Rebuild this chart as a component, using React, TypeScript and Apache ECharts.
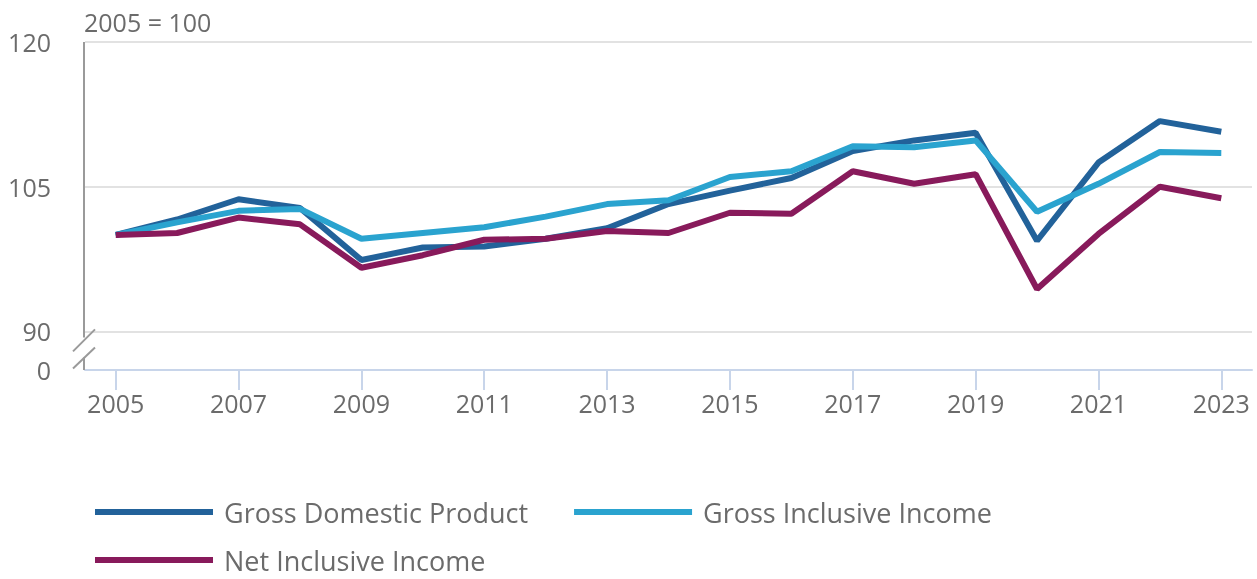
import React, { useEffect, useRef } from "react";
import * as echarts from "echarts";

const years = ["2005","2006","2007","2008","2009","2010","2011","2012","2013","2014","2015","2016","2017","2018","2019","2020","2021","2022","2023"];
const gdp = [100, 101.6, 103.7, 102.8, 97.4, 98.7, 98.8, 99.6, 100.7, 103.2, 104.6, 105.9, 108.7, 109.8, 110.6, 99.4, 107.5, 111.8, 110.7];
const gii = [100, 101.3, 102.5, 102.7, 99.6, 100.2, 100.8, 101.9, 103.2, 103.6, 106.0, 106.6, 109.2, 109.1, 109.8, 102.4, 105.3, 108.6, 108.5];
const nii = [100, 100.2, 101.8, 101.1, 96.6, 97.9, 99.5, 99.6, 100.4, 100.2, 102.3, 102.2, 106.6, 105.3, 106.3, 94.4, 100.1, 105.0, 103.8];
const yTickValues = [86, 90, 105, 120];
const seriesNames = ["Gross Domestic Product", "Gross Inclusive Income", "Net Inclusive Income"];
const colors = ["#22629a", "#2aa3cf", "#881a5b"];

const FONT = "'Open Sans', sans-serif";
const GRAY = "#6b6b6b";
const GRID_LEFT = 85;

export default function App() {
  const ref = useRef<HTMLDivElement>(null);
  useEffect(() => {
    if (!ref.current) return;
    const chart = echarts.init(ref.current, null, { renderer: "svg" });
    const mk = (name: string, data: number[], color: string) => ({
      name,
      type: "line",
      data,
      symbol: "none",
      lineStyle: { width: 6, color },
      itemStyle: { color },
      z: 3,
    });
    const legendText = { fontFamily: FONT, fontSize: 27, lineHeight: 28, color: GRAY, padding: [0, 0, 0, 6] };
    chart.setOption({
      animation: false,
      textStyle: { fontFamily: FONT },
      title: {
        text: "2005 = 100",
        left: 79,
        top: 4,
        textStyle: { fontFamily: FONT, fontSize: 25, fontWeight: "normal", color: GRAY },
      },
      grid: { left: GRID_LEFT, right: 5, top: 42, bottom: 209, containLabel: false },
      legend: [
        {
          data: [seriesNames[0], seriesNames[1]],
          left: 95,
          top: 498,
          padding: 0,
          icon: "rect",
          itemWidth: 118,
          itemHeight: 6,
          itemGap: 46,
          textStyle: legendText,
        },
        {
          data: [seriesNames[2]],
          left: 95,
          top: 546,
          padding: 0,
          icon: "rect",
          itemWidth: 118,
          itemHeight: 6,
          textStyle: legendText,
        },
      ],
      xAxis: {
        type: "category",
        data: years,
        boundaryGap: true,
        axisLine: { lineStyle: { color: "#c8d5ea", width: 2 } },
        axisTick: { show: true, alignWithLabel: true, interval: 1, length: 20, lineStyle: { color: "#c8d5ea", width: 2 } },
        axisLabel: { interval: 1, margin: 20, fontFamily: FONT, fontSize: 25, color: GRAY },
        splitLine: { show: false },
      },
      yAxis: {
        type: "value",
        min: 86,
        max: 120,
        axisLine: { show: false },
        axisTick: { show: false, customValues: yTickValues },
        axisLabel: {
          customValues: yTickValues,
          margin: 34,
          fontFamily: FONT,
          fontSize: 25,
          color: GRAY,
          formatter: (v: number) => (v < 87 ? "0" : String(v)),
        },
        splitLine: { show: true, lineStyle: { color: "#e2e2e2", width: 2 } },
      },
      series: [
        mk(seriesNames[0], gdp, colors[0]),
        mk(seriesNames[1], gii, colors[1]),
        mk(seriesNames[2], nii, colors[2]),
      ],
    });
    const yTop = chart.convertToPixel({ yAxisIndex: 0 }, 120) as number;
    const y90 = chart.convertToPixel({ yAxisIndex: 0 }, 90) as number;
    const yBot = chart.convertToPixel({ yAxisIndex: 0 }, 86) as number;
    const x = GRID_LEFT - 1;
    const ls = { stroke: "#9a9a9a", lineWidth: 2 };
    chart.setOption({
      graphic: [
        { type: "line", shape: { x1: x, y1: yTop, x2: x, y2: y90 + 6 }, style: ls, z: 10 },
        { type: "line", shape: { x1: x, y1: y90 + 26, x2: x, y2: yBot }, style: ls, z: 10 },
        { type: "line", shape: { x1: x - 11, y1: y90 + 20, x2: x + 11, y2: y90 - 2 }, style: ls, z: 10 },
        { type: "line", shape: { x1: x - 11, y1: y90 + 37, x2: x + 11, y2: y90 + 16 }, style: ls, z: 10 },
      ],
    });
    return () => chart.dispose();
  }, []);
  return <div ref={ref} style={{ width: 1257, height: 579, position: "fixed", left: 0, top: 0 }} />;
}
